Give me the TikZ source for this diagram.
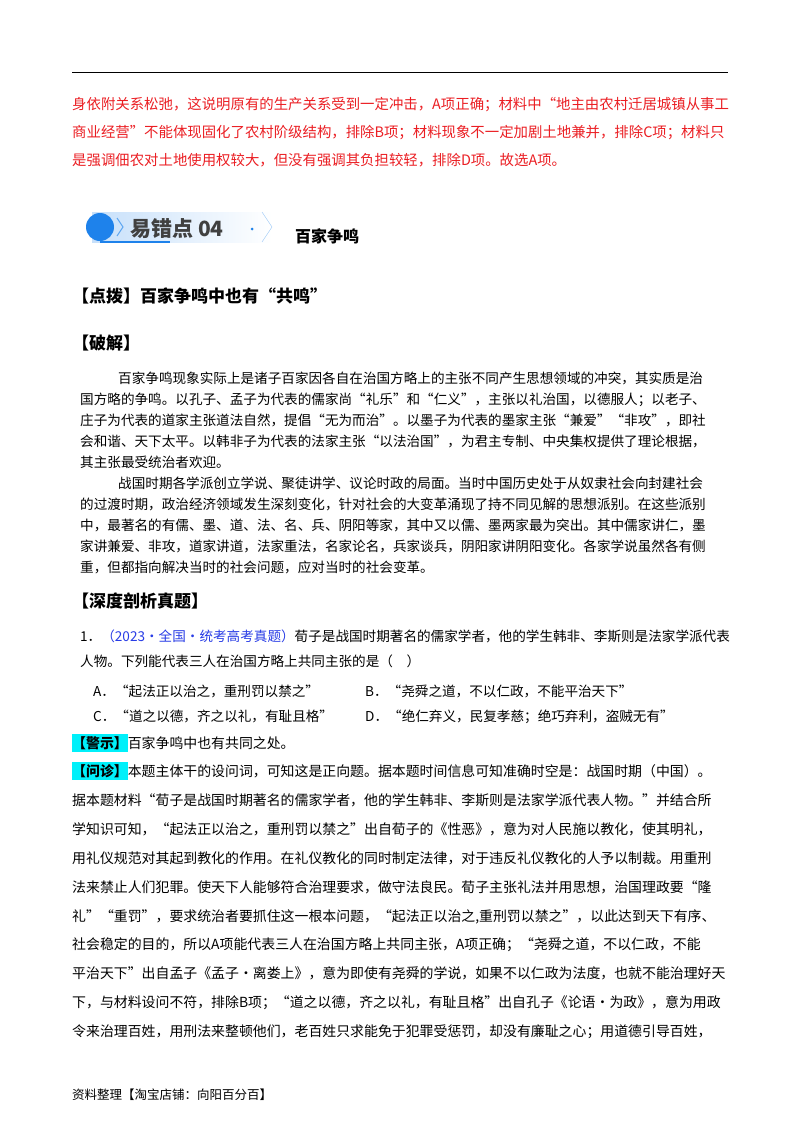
\documentclass[tikz,border=0pt]{standalone}
\usepackage{fontspec}
\setmainfont{Noto Sans CJK SC}
\definecolor{redtxt}{RGB}{235,30,35}
\definecolor{qblue}{RGB}{40,60,230}
\definecolor{hl}{RGB}{0,240,250}
\definecolor{bann}{RGB}{30,130,235}
\tikzset{ln/.style={anchor=base west,inner sep=0pt,font=\fontsize{13.6}{14}\selectfont},
 rd/.style={ln,text=redtxt,font=\fontsize{14.4}{15}\selectfont},
 ti/.style={anchor=base west,inner sep=0pt,font=\fontsize{17}{18}\selectfont\bfseries},
 an/.style={ln,font=\fontsize{13.9}{14}\selectfont}}
\begin{document}
\begin{tikzpicture}[x=1pt,y=-1pt]
\useasboundingbox (0,0) rectangle (800,1132);
\fill[white] (0,0) rectangle (800,1132);
\draw[line width=0.8pt] (72,72) -- (728,72);
\node[rd] (r1) at (72,109) {身依附关系松弛，这说明原有的生产关系受到一定冲击，A项正确；材料中“地主由农村迁居城镇从事工};
\node[rd] (r2) at (72,137) {商业经营”不能体现固化了农村阶级结构，排除B项；材料现象不一定加剧土地兼并，排除C项；材料只};
\node[rd] (r3) at (72,165) {是强调佃农对土地使用权较大，但没有强调其负担较轻，排除D项。故选A项。};
% banner
\shade[left color=bann!25,right color=white] (92,212) rectangle (272,242);
\draw[bann!50] (262,212) -- (272,227) -- (262,242);
\draw[bann,line width=2pt] (100,242) -- (170,242);
\fill[bann] (100,227) circle (14);
\draw[bann!70,line width=1pt] (117,218) -- (123,227) -- (117,236);
\node[anchor=base west,inner sep=0pt,font=\fontsize{21}{22}\selectfont\bfseries,text=black!75] (bt) at (130,236) {易错点 04};
\fill[bann] (252,229) circle (1.5);
\node[anchor=base west,inner sep=0pt,font=\fontsize{16}{17}\selectfont\bfseries] (h) at (295,242) {百家争鸣};
\node[ti] (t1) at (72,302) {【点拨】百家争鸣中也有“共鸣”};
\node[ti] (t2) at (72,349) {【破解】};
\node[ln] at (118,383) {百家争鸣现象实际上是诸子百家因各自在治国方略上的主张不同产生思想领域的冲突，其实质是治};
\node[ln] at (80,404) {国方略的争鸣。以孔子、孟子为代表的儒家尚“礼乐”和“仁义”，主张以礼治国，以德服人；以老子、};
\node[ln] at (80,425) {庄子为代表的道家主张道法自然，提倡“无为而治”。以墨子为代表的墨家主张“兼爱”“非攻”，即社};
\node[ln] at (80,446) {会和谐、天下太平。以韩非子为代表的法家主张“以法治国”，为君主专制、中央集权提供了理论根据，};
\node[ln] at (80,467) {其主张最受统治者欢迎。};
\node[ln] at (118,488) {战国时期各学派创立学说、聚徒讲学、议论时政的局面。当时中国历史处于从奴隶社会向封建社会};
\node[ln] at (80,509) {的过渡时期，政治经济领域发生深刻变化，针对社会的大变革涌现了持不同见解的思想派别。在这些派别};
\node[ln] at (80,530) {中，最著名的有儒、墨、道、法、名、兵、阴阳等家，其中又以儒、墨两家最为突出。其中儒家讲仁，墨};
\node[ln] at (80,551) {家讲兼爱、非攻，道家讲道，法家重法，名家论名，兵家谈兵，阴阳家讲阴阳变化。各家学说虽然各有侧};
\node[ln] at (80,572) {重，但都指向解决当时的社会问题，应对当时的社会变革。};
\node[ti] (t3) at (72,607) {【深度剖析真题】};
\node[ln] at (80,641) {1．\textcolor{qblue}{（2023·全国·统考高考真题）}荀子是战国时期著名的儒家学者，他的学生韩非、李斯则是法家学派代表};
\node[ln] at (80,666) {人物。下列能代表三人在治国方略上共同主张的是（\quad ）};
\node[ln] at (93,696) {A．“起法正以治之，重刑罚以禁之”};
\node[ln] at (365,696) {B．“尧舜之道，不以仁政，不能平治天下”};
\node[ln] at (93,721) {C．“道之以德，齐之以礼，有耻且格”};
\node[ln] at (365,721) {D．“绝仁弃义，民复孝慈；绝巧弃利，盗贼无有”};
\fill[hl] (72,734) rectangle (128,752);
\fill[hl] (72,762) rectangle (128,780);
\node[an] at (72,748) {\textbf{【警示】}百家争鸣中也有共同之处。};
\node[an] at (72,776) {\textbf{【问诊】}本题主体干的设问词，可知这是正向题。据本题时间信息可知准确时空是：战国时期（中国）。};
\node[an] at (72,805) {据本题材料“荀子是战国时期著名的儒家学者，他的学生韩非、李斯则是法家学派代表人物。”并结合所};
\node[an] at (72,834) {学知识可知，“起法正以治之，重刑罚以禁之”出自荀子的《性恶》，意为对人民施以教化，使其明礼，};
\node[an] at (72,863) {用礼仪规范对其起到教化的作用。在礼仪教化的同时制定法律，对于违反礼仪教化的人予以制裁。用重刑};
\node[an] at (72,892) {法来禁止人们犯罪。使天下人能够符合治理要求，做守法良民。荀子主张礼法并用思想，治国理政要“隆};
\node[an] at (72,921) {礼”“重罚”，要求统治者要抓住这一根本问题，“起法正以治之,重刑罚以禁之”，以此达到天下有序、};
\node[an] at (72,949) {社会稳定的目的，所以A项能代表三人在治国方略上共同主张，A项正确；“尧舜之道，不以仁政，不能};
\node[an] at (72,978) {平治天下”出自孟子《孟子·离娄上》，意为即使有尧舜的学说，如果不以仁政为法度，也就不能治理好天};
\node[an] at (72,1007) {下，与材料设问不符，排除B项；“道之以德，齐之以礼，有耻且格”出自孔子《论语·为政》，意为用政};
\node[an] at (72,1036) {令来治理百姓，用刑法来整顿他们，老百姓只求能免于犯罪受惩罚，却没有廉耻之心；用道德引导百姓，};
\node[ln,font=\fontsize{12.5}{13}\selectfont] at (72,1099) {资料整理【淘宝店铺：向阳百分百】};
\end{tikzpicture}
\end{document}
